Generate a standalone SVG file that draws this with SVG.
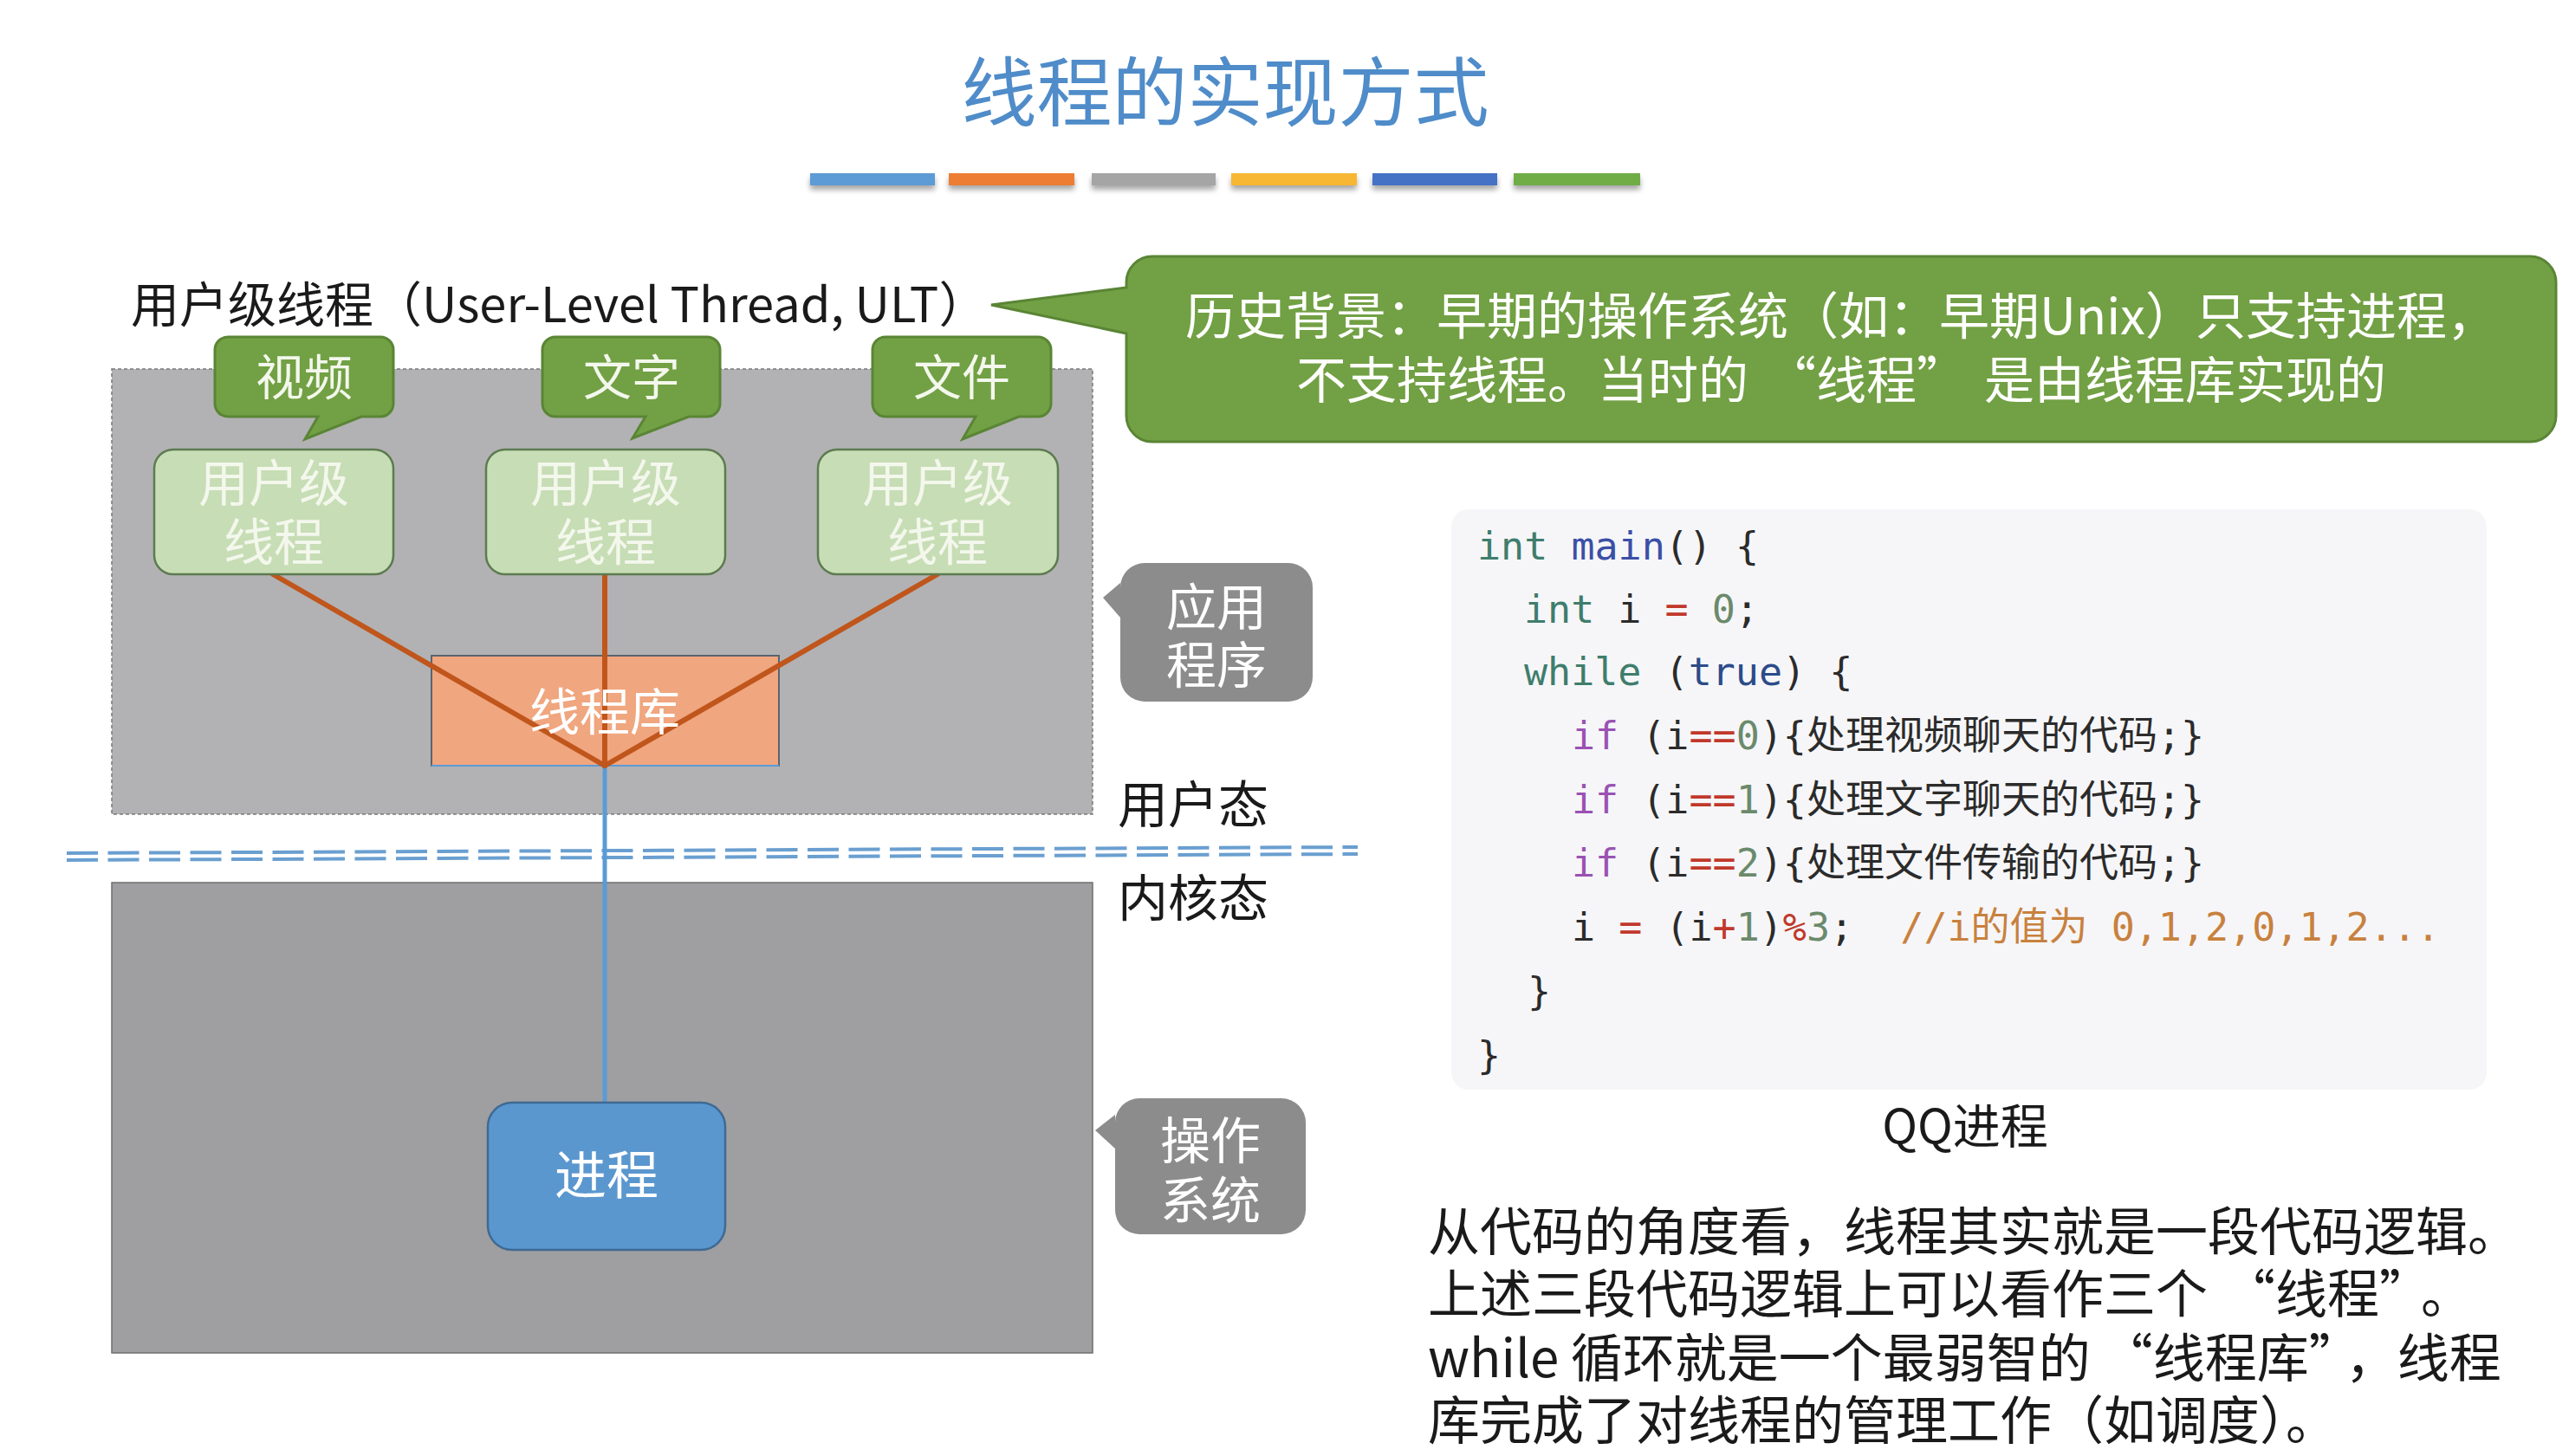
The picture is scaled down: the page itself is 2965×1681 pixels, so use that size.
<svg xmlns="http://www.w3.org/2000/svg" width="2965" height="1681" viewBox="0 0 2965 1681">
<style>
text{font-family:"Noto Sans CJK SC","Noto Sans",sans-serif}
.w{fill:#ffffff}
.lt{fill:#f3f7ec}
.dk{fill:#1a1a1a}
.c{text-anchor:middle}
.code{font-family:"DejaVu Sans Mono","Noto Sans CJK SC",monospace;font-size:45px;fill:#2b2b2b}
.kw{fill:#3f7d6c}
.fn{fill:#3b4fa6}
.bl{fill:#2c4b8a}
.pk{fill:#9a52b3}
.op{fill:#c0392b}
.nm{fill:#6b8a6b}
.cm{fill:#c8813e}
.gb{fill:#72a044;stroke:#5a8535;stroke-width:3}
.ut{fill:#c7ddb5;stroke:#5d7b50;stroke-width:2.5}
.gy{fill:#8c8c8c}
.or{stroke:#c0561c;stroke-width:6;fill:none;stroke-linecap:round}
</style>
<defs>
<filter id="sh" x="-10%" y="-50%" width="120%" height="250%">
<feGaussianBlur in="SourceAlpha" stdDeviation="3"/>
<feOffset dx="0" dy="5"/>
<feComponentTransfer><feFuncA type="linear" slope="0.35"/></feComponentTransfer>
<feMerge><feMergeNode/><feMergeNode in="SourceGraphic"/></feMerge>
</filter>
</defs>
<rect width="2965" height="1681" fill="#ffffff"/>

<g id="title">
<text x="1414" y="139" class="c" font-size="87" fill="#4f8cc9">线程的实现方式</text>
<g filter="url(#sh)">
<rect x="935" y="200" width="144" height="14" fill="#5b9bd5"/>
<rect x="1095" y="200" width="145" height="14" fill="#ed7d31"/>
<rect x="1260" y="200" width="143" height="14" fill="#a5a5a5"/>
<rect x="1421" y="200" width="145" height="14" fill="#f7b733"/>
<rect x="1584" y="200" width="144" height="14" fill="#4472c4"/>
<rect x="1747" y="200" width="146" height="14" fill="#70ad47"/>
</g>
</g>

<g id="header">
<text x="151" y="372" font-size="56" class="dk">用户级线程（User-Level Thread, ULT）</text>
</g>

<g id="history">
<path class="gb" d="M1330 296 H2920 A30 30 0 0 1 2950 326 V480 A30 30 0 0 1 2920 510 H1330 A30 30 0 0 1 1300 480 V385 L1144 352 L1300 332 V326 A30 30 0 0 1 1330 296 Z"/>
<text x="2125" y="386" class="c w" font-size="58">历史背景：早期的操作系统（如：早期Unix）只支持进程，</text>
<text x="2125" y="460" class="c w" font-size="58">不支持线程。当时的<tspan dx="20">“</tspan>线程”<tspan dx="20">是</tspan>由线程库实现的</text>
</g>

<g id="app-region">
<rect x="129" y="426" width="1132" height="514" fill="#b2b2b4" stroke="#7a7a7a" stroke-width="1.5" stroke-dasharray="4 3"/>
</g>
<g id="kernel-region">
<rect x="129" y="1019" width="1132" height="543" fill="#9f9ea0" stroke="#6f6f6f" stroke-width="1.5"/>
</g>

<g id="separator" fill="none" stroke="#6a9fd0" stroke-width="4" stroke-dasharray="36 11.5">
<line x1="77" y1="985" x2="1567" y2="978"/>
<line x1="77" y1="993" x2="1567" y2="986"/>
</g>

<g id="thread-lib">
<rect x="498" y="757" width="401" height="127" fill="#f0a67f" stroke="#5a6470" stroke-width="2"/>
<line x1="498" y1="884" x2="899" y2="884" stroke="#5b9bd5" stroke-width="2"/>
</g>

<g id="connectors" fill="none" stroke-linecap="round">
<line x1="698" y1="884" x2="698" y2="1273" stroke="#5b9bd5" stroke-width="5"/>
<line class="or" x1="315" y1="663" x2="698" y2="884"/>
<line class="or" x1="698" y1="663" x2="698" y2="884"/>
<line class="or" x1="1082" y1="663" x2="698" y2="884"/>
</g>

<g id="thread-lib-label">
<text x="698" y="843" class="c w" font-size="58">线程库</text>
</g>

<g id="bubble-video">
<path class="gb" d="M263 389 H439 A15 15 0 0 1 454 404 V466 A15 15 0 0 1 439 481 H417 L352 507 L367 481 H263 A15 15 0 0 1 248 466 V404 A15 15 0 0 1 263 389 Z"/>
<text x="351" y="456" class="c lt" font-size="56">视频</text>
</g>
<g id="bubble-text">
<path class="gb" d="M641 389 H816 A15 15 0 0 1 831 404 V466 A15 15 0 0 1 816 481 H795 L730 506 L745 481 H641 A15 15 0 0 1 626 466 V404 A15 15 0 0 1 641 389 Z"/>
<text x="729" y="456" class="c lt" font-size="56">文字</text>
</g>
<g id="bubble-file">
<path class="gb" d="M1022 389 H1198 A15 15 0 0 1 1213 404 V466 A15 15 0 0 1 1198 481 H1176 L1111 507 L1126 481 H1022 A15 15 0 0 1 1007 466 V404 A15 15 0 0 1 1022 389 Z"/>
<text x="1110" y="456" class="c lt" font-size="56">文件</text>
</g>

<g id="ult-1">
<rect class="ut" x="178" y="519" width="276" height="144" rx="22"/>
<text x="316" y="579" class="c lt" font-size="58">用户级</text>
<text x="316" y="647" class="c lt" font-size="58">线程</text>
</g>
<g id="ult-2">
<rect class="ut" x="561" y="519" width="276" height="144" rx="22"/>
<text x="699" y="579" class="c lt" font-size="58">用户级</text>
<text x="699" y="647" class="c lt" font-size="58">线程</text>
</g>
<g id="ult-3">
<rect class="ut" x="944" y="519" width="277" height="144" rx="22"/>
<text x="1082" y="579" class="c lt" font-size="58">用户级</text>
<text x="1082" y="647" class="c lt" font-size="58">线程</text>
</g>

<g id="process">
<rect x="563" y="1273" width="274" height="170" rx="28" fill="#5b97cf" stroke="#3e6a94" stroke-width="2.5"/>
<text x="700" y="1379" class="c w" font-size="60">进程</text>
</g>

<g id="label-app">
<path class="gy" d="M1321 650 H1487 A28 28 0 0 1 1515 678 V782 A28 28 0 0 1 1487 810 H1321 A28 28 0 0 1 1293 782 V713 L1273 690 L1293 673 V678 A28 28 0 0 1 1321 650 Z"/>
<text x="1404" y="722" class="c w" font-size="58">应用</text>
<text x="1404" y="789" class="c w" font-size="58">程序</text>
</g>
<g id="label-os">
<path class="gy" d="M1315 1268 H1479 A28 28 0 0 1 1507 1296 V1397 A28 28 0 0 1 1479 1425 H1315 A28 28 0 0 1 1287 1397 V1326 L1264 1305 L1287 1287 V1296 A28 28 0 0 1 1315 1268 Z"/>
<text x="1397" y="1338" class="c w" font-size="58">操作</text>
<text x="1397" y="1407" class="c w" font-size="58">系统</text>
</g>

<g id="mode-labels">
<text x="1290" y="950" class="dk" font-size="58">用户态</text>
<text x="1290" y="1058" class="dk" font-size="58">内核态</text>
</g>

<g id="code">
<rect x="1675" y="588" width="1195" height="670" rx="20" fill="#f6f6f8"/>
<text class="code" x="1705" y="646"><tspan class="kw">int</tspan> <tspan class="fn">main</tspan>() {</text>
<text class="code" x="1759" y="719"><tspan class="kw">int</tspan> i <tspan class="op">=</tspan> <tspan class="nm">0</tspan>;</text>
<text class="code" x="1759" y="791"><tspan class="kw">while</tspan> (<tspan class="bl">true</tspan>) {</text>
<text class="code" x="1814" y="865"><tspan class="pk">if</tspan> (i<tspan class="op">==</tspan><tspan class="nm">0</tspan>){处理视频聊天的代码;}</text>
<text class="code" x="1814" y="939"><tspan class="pk">if</tspan> (i<tspan class="op">==</tspan><tspan class="nm">1</tspan>){处理文字聊天的代码;}</text>
<text class="code" x="1814" y="1012"><tspan class="pk">if</tspan> (i<tspan class="op">==</tspan><tspan class="nm">2</tspan>){处理文件传输的代码;}</text>
<text class="code" x="1814" y="1086" xml:space="preserve">i <tspan class="op">=</tspan> (i<tspan class="op">+</tspan><tspan class="nm">1</tspan>)<tspan class="op">%</tspan><tspan class="nm">3</tspan>;  <tspan class="cm">//i的值为 0,1,2,0,1,2...</tspan></text>
<text class="code" x="1763" y="1160">}</text>
<text class="code" x="1705" y="1234">}</text>
</g>

<g id="caption">
<text x="2268" y="1320" class="c dk" font-size="55">QQ进程</text>
</g>

<g id="explanation">
<text x="1648" y="1444" class="dk" font-size="60">从代码的角度看，线程其实就是一段代码逻辑。</text>
<text x="1648" y="1516" class="dk" font-size="60">上述三段代码逻辑上可以看作三个<tspan dx="18">“</tspan>线程”<tspan dx="18">。</tspan></text>
<text x="1648" y="1590" class="dk" font-size="60">while 循环就是一个最弱智的<tspan dx="12">“</tspan>线程库”<tspan dx="12">，</tspan>线程</text>
<text x="1648" y="1662" class="dk" font-size="60">库完成了对线程的管理工作（如调度）。</text>
</g>
</svg>
